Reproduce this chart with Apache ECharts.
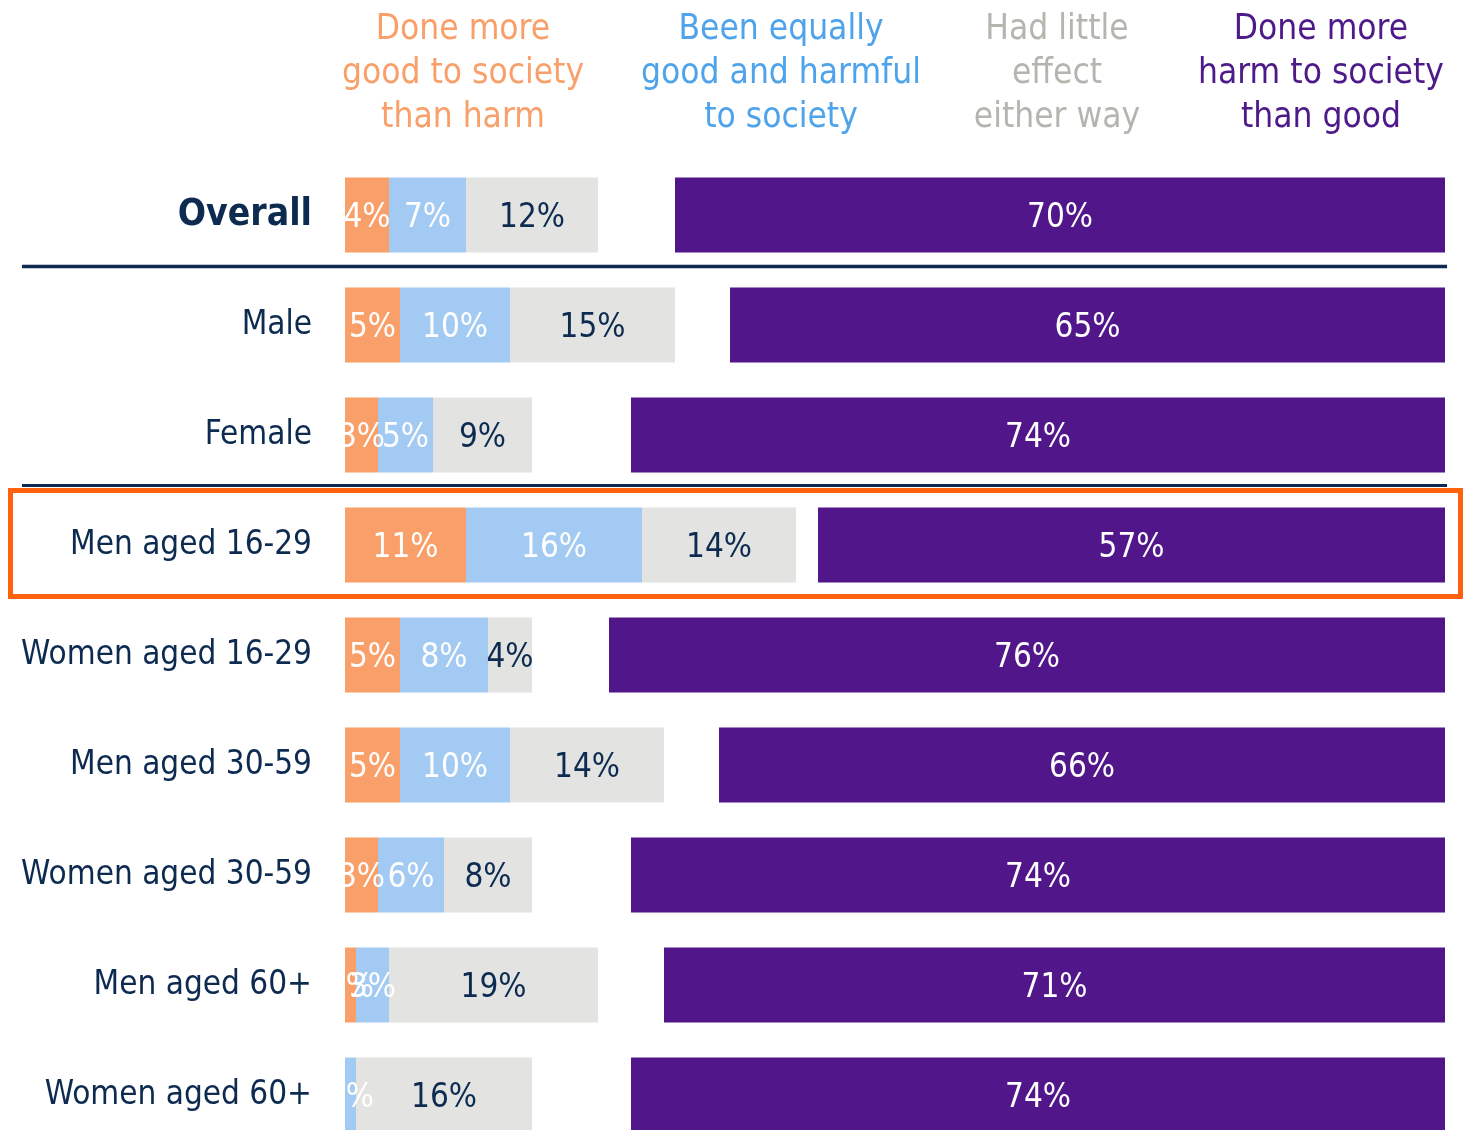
<!DOCTYPE html>
<html>
<head>
<meta charset="utf-8">
<script src="https://cdn.jsdelivr.net/npm/echarts@6/dist/echarts.min.js"></script>
<style>
  html, body { margin: 0; padding: 0; background: #fff; }
  #chart { width: 1463px; height: 1130px; }
</style>
</head>
<body>
<div id="chart"></div>
<script>
const categories = ['Overall', 'Male', 'Female', 'Men aged 16-29', 'Women aged 16-29',
  'Men aged 30-59', 'Women aged 30-59', 'Men aged 60+', 'Women aged 60+']
const moreGood = [4, 5, 3, 11, 5, 5, 3, 1, 0]
const equally = [7, 10, 5, 16, 8, 10, 6, 3, 1]
const littleEffect = [12, 15, 9, 14, 4, 14, 8, 19, 16]
const moreHarm = [70, 65, 74, 57, 76, 66, 74, 71, 74]
const headers = [
  'Done more\ngood to society\nthan harm',
  'Been equally\ngood and harmful\nto society',
  'Had little\neffect\neither way',
  'Done more\nharm to society\nthan good'
]

const FONT = '"DejaVu Sans Condensed", "Liberation Sans Narrow", sans-serif'
const NAVY = '#0d2b50'
const colors = ['#f9a06a', '#a3caf3', '#e3e3e1', '#50168a']
const headColors = ['#f9a06a', '#4fa3ea', '#b5b5b0', '#4e1a8a']
const headX = [463, 781, 1057, 1321]

const label = (color) => ({
  show: true,
  position: 'inside',
  offset: [0, 3],
  color: color,
  fontFamily: FONT,
  fontSize: 33,
  formatter: (p) => (p.value ? p.value + '%' : '')
})

const chart = echarts.init(document.getElementById('chart'))
chart.setOption({
  animation: false,
  grid: { left: 345, top: 160, width: 1100, height: 990, containLabel: false, outerBoundsMode: 'none' },
  xAxis: [
    { type: 'value', min: 0, max: 100, show: false },
    { type: 'value', min: 0, max: 100, inverse: true, show: false }
  ],
  yAxis: {
    type: 'category',
    data: categories,
    inverse: true,
    axisLine: { show: false },
    axisTick: { show: false },
    axisLabel: {
      margin: 33,
      color: NAVY,
      fontFamily: FONT,
      fontSize: 33,
      formatter: (v, i) => (i === 0 ? '{b|' + v + '}' : v),
      rich: { b: { fontFamily: FONT, fontSize: 37, fontWeight: 'bold', color: NAVY } }
    }
  },
  series: [
    { type: 'bar', name: 'good', stack: 'left', xAxisIndex: 0, barWidth: 75, data: moreGood,
      itemStyle: { color: colors[0] }, label: label('#fff') },
    { type: 'bar', name: 'equal', stack: 'left', xAxisIndex: 0, barWidth: 75, data: equally,
      itemStyle: { color: colors[1] }, label: label('#fff') },
    { type: 'bar', name: 'little', stack: 'left', xAxisIndex: 0, barWidth: 75, data: littleEffect,
      itemStyle: { color: colors[2] }, label: label(NAVY) },
    { type: 'bar', name: 'harm', xAxisIndex: 1, barWidth: 75, barGap: '-100%', data: moreHarm,
      itemStyle: { color: colors[3] }, label: label('#fff') }
  ],
  graphic: [
    // hides label overflow left of the bars
    { type: 'rect', z: 100, shape: { x: 318, y: 170, width: 27, height: 960 }, style: { fill: '#fff' } },
    { type: 'line', z: 101, shape: { x1: 22, y1: 266.5, x2: 1447, y2: 266.5 }, style: { stroke: NAVY, lineWidth: 3.5 } },
    { type: 'line', z: 101, shape: { x1: 22, y1: 485.5, x2: 1447, y2: 485.5 }, style: { stroke: NAVY, lineWidth: 3 } },
    { type: 'rect', z: 102, shape: { x: 10.5, y: 490.5, width: 1450, height: 106 },
      style: { fill: 'none', stroke: '#ff620e', lineWidth: 5 } },
    ...headers.map((t, i) => ({
      type: 'text', z: 101, x: headX[i], y: 8,
      style: { text: t, fill: headColors[i], font: '35px ' + FONT, align: 'center',
        verticalAlign: 'top', lineHeight: 44 }
    }))
  ]
})
</script>
</body>
</html>
